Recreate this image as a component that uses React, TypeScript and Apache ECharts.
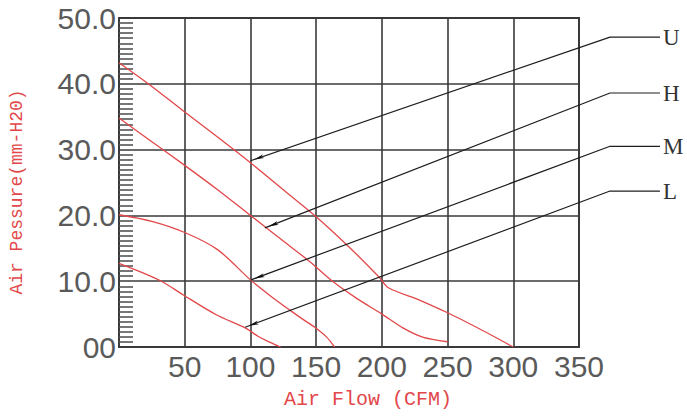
import React, { useEffect, useRef } from 'react';
import * as echarts from 'echarts';

// Air flow (CFM) vs air pressure (mm-H2O) curves
const curveU: number[][] = [
  [0, 43.2], [25, 39.6], [50, 35.7], [75, 31.9], [100, 28.0], [125, 23.9],
  [150, 19.8], [175, 15.2], [198, 10.6], [205, 9.0], [229, 7.1],
  [250, 5.2], [272, 3.0], [300, 0],
];
const curveH: number[][] = [
  [0, 34.8], [25, 31.2], [50, 27.6], [75, 23.9], [100, 20.0], [125, 16.1],
  [145, 13.0], [163, 9.9], [180, 7.5], [200, 5.0], [216, 2.9], [231, 1.5], [250, 0.8],
];
const curveM: number[][] = [
  [0, 20.1], [25, 19.1], [50, 17.4], [75, 14.8], [100, 10.2], [115, 7.8],
  [130, 5.6], [140, 4.2], [149, 3.0], [158, 1.5], [164, 0],
];
const curveL: number[][] = [
  [0, 12.7], [20, 11.1], [34, 9.8], [49, 7.9], [74, 4.9], [96, 2.9],
  [106, 1.6], [115, 0.7], [123, 0],
];

// Leader lines: start on curve, bend point, end point (data coords)
const pointerU: number[][] = [[100, 28.3], [373.6, 47.1], [411.6, 47.1]];
const pointerH: number[][] = [[111, 18.1], [373.6, 38.6], [411.6, 38.6]];
const pointerM: number[][] = [[100.4, 10.2], [373.6, 30.5], [411.6, 30.5]];
const pointerL: number[][] = [[96, 3.0], [373.6, 23.7], [411.6, 23.7]];
const pointerNames: string[] = ['U', 'H', 'M', 'L'];

const xMin = 0, xMax = 350, xStep = 50;
const yMin = 0, yMax = 50, yStep = 10;
const xTitle = 'Air Flow (CFM)';
const yTitle = 'Air Pessure(mm-H20)';

const curves = [curveU, curveH, curveM, curveL];
const pointers = [pointerU, pointerH, pointerM, pointerL];

const RED = '#e2474a';
const GRID = '#3a3a3a';
const LABEL = '#5a5a5a';

// layout
const W = 687;
const G_LEFT = 119, G_RIGHT = 108, G_TOP = 18, G_BOTTOM = 69;
const G2_RIGHT = 27; // wider overlay grid for the leader lines (same scale)
const xMax2 = (xMax * (W - G2_RIGHT - G_LEFT)) / (W - G_RIGHT - G_LEFT);

export default function App() {
  const ref = useRef<HTMLDivElement>(null);

  useEffect(() => {
    const chart = echarts.init(ref.current!, undefined, { renderer: 'svg' });

    const build = (arrows: { rot: number; off: number[] }[]) => ({
      animation: false,
      backgroundColor: '#ffffff',
      grid: [
        {
          left: G_LEFT, right: G_RIGHT, top: G_TOP, bottom: G_BOTTOM,
          show: true, borderColor: GRID, borderWidth: 2,
          containLabel: false, outerBoundsMode: 'none',
        },
        {
          left: G_LEFT, right: G2_RIGHT, top: G_TOP, bottom: G_BOTTOM,
          show: false, containLabel: false, outerBoundsMode: 'none',
        },
      ],
      xAxis: [
        {
          type: 'value', min: xMin, max: xMax, interval: xStep, gridIndex: 0,
          axisLine: { show: true, lineStyle: { color: GRID, width: 2 } },
          axisTick: { show: false },
          splitLine: { show: true, lineStyle: { color: GRID, width: 1.6 } },
          axisLabel: {
            color: LABEL, fontSize: 30, fontFamily: 'Liberation Sans', margin: 4,
            formatter: (v: number) => (v === 0 ? '' : String(v)),
          },
          name: xTitle, nameLocation: 'middle', nameGap: 42,
          nameTextStyle: {
            color: RED, fontSize: 20, fontFamily: 'Liberation Mono',
            padding: [0, 0, 0, 38],
          },
        },
        {
          type: 'value', min: xMin, max: xMax2, gridIndex: 1, show: false,
        },
      ],
      yAxis: [
        {
          type: 'value', min: yMin, max: yMax, interval: yStep, gridIndex: 0,
          axisLine: { show: true, lineStyle: { color: GRID, width: 2 } },
          axisTick: { show: false },
          minorTick: { show: true, splitNumber: 13, length: -14, lineStyle: { color: '#555', width: 1.6 } },
          splitLine: { show: true, lineStyle: { color: GRID, width: 1.6 } },
          axisLabel: {
            color: LABEL, fontSize: 30, fontFamily: 'Liberation Sans', margin: 3,
            formatter: (v: number) => (v === 0 ? '00' : v.toFixed(1)),
          },
          name: yTitle, nameLocation: 'middle', nameRotate: 90, nameGap: 93,
          nameTextStyle: {
            color: RED, fontSize: 18, fontFamily: 'Liberation Mono',
            padding: [0, 19, 0, 0],
          },
        },
        {
          type: 'value', min: yMin, max: yMax, gridIndex: 1, show: false,
        },
      ],
      series: [
        ...curves.map((c) => ({
          type: 'line', data: c, smooth: 0.3,
          xAxisIndex: 0, yAxisIndex: 0,
          symbol: 'none', silent: true, z: 3,
          lineStyle: { color: RED, width: 1.3 },
        })),
        ...pointers.map((p, i) => ({
          type: 'line', silent: true, clip: false, z: 4,
          xAxisIndex: 1, yAxisIndex: 1,
          symbol: 'none', showSymbol: true,
          data: [
            {
              value: p[0], symbol: 'arrow', symbolSize: [3, 10],
              symbolRotate: arrows[i].rot, symbolOffset: arrows[i].off,
              itemStyle: { color: '#111' },
            },
            { value: p[1], symbol: 'none' },
            { value: p[2], symbol: 'none' },
          ],
          lineStyle: { color: '#1e1e1e', width: 1.2 },
          endLabel: {
            show: true, formatter: pointerNames[i], distance: 3,
            fontFamily: 'Liberation Serif', fontSize: 23, color: '#333',
          },
        })),
      ],
    });

    chart.setOption(build(pointers.map(() => ({ rot: 0, off: [0, 0] }))));
    const arrows = pointers.map((p) => {
      const a = chart.convertToPixel({ gridIndex: 1 }, p[0]) as number[];
      const b = chart.convertToPixel({ gridIndex: 1 }, p[1]) as number[];
      const dx = a[0] - b[0];
      const dy = a[1] - b[1];
      const len = Math.hypot(dx, dy) || 1;
      const rot = (Math.atan2(-dx, -dy) * 180) / Math.PI;
      const off = [(-dx / len) * 4, (-dy / len) * 4];
      return { rot, off };
    });
    chart.setOption(build(arrows), true);

    return () => chart.dispose();
  }, []);

  return (
    <div
      ref={ref}
      style={{ position: 'fixed', left: 0, top: 0, width: 687, height: 416, background: '#fff' }}
    />
  );
}
